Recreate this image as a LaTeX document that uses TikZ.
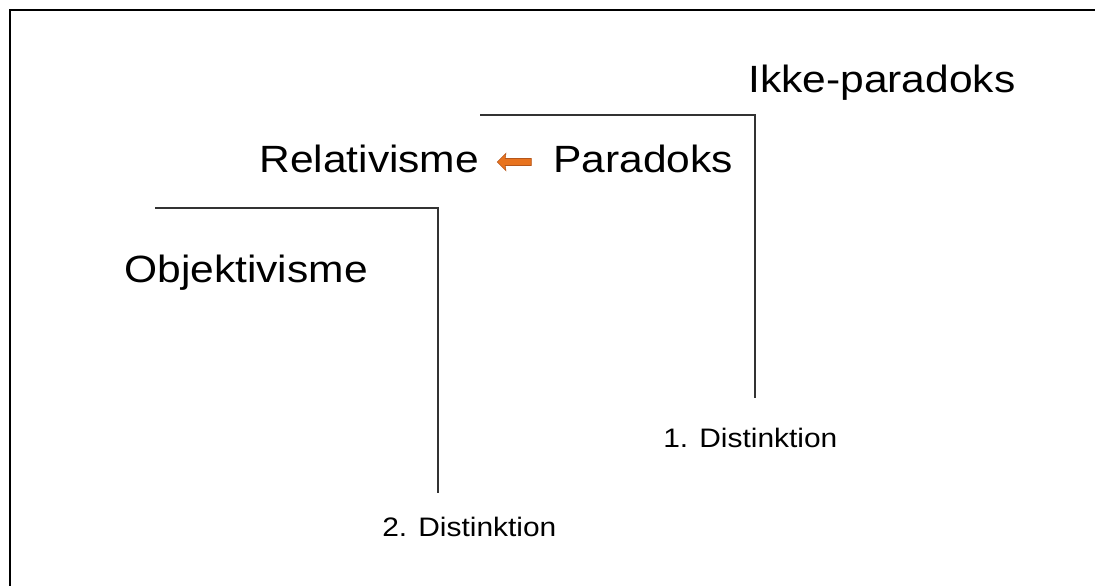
\documentclass[tikz,border=0pt]{standalone}
\usepackage{fontspec}
\setmainfont{Liberation Sans}
\usepackage{xcolor}
\usetikzlibrary{shapes.arrows}

\definecolor{arrowfill}{HTML}{E8731E}
\definecolor{arrowedge}{HTML}{B5561A}

\tikzset{
    big/.style={anchor=base west, inner sep=0pt, xscale=1.12, transform shape, font=\fontsize{27}{30}\selectfont},
    small/.style={anchor=base west, inner sep=0pt, xscale=1.12, transform shape, font=\fontsize{19}{22}\selectfont},
    stepline/.style={line width=1pt, draw=black!80}
}

\begin{document}
\begin{tikzpicture}[x=0.025cm, y=-0.025cm]
    \useasboundingbox (0,0) rectangle (1095,586);

    % Frame (top and left edges)
    \draw[line width=1.5pt] (1095,10) -- (10,10) -- (10,586);

    % Labels
    \node[big] (ikke) at (748,92) {Ikke-paradoks};
    \node[big] (rel) at (259,172) {Relativisme};
    \node[big] (para) at (553,172) {Paradoks};
    \node[big] (obj) at (124,282) {Objektivisme};
    \node[small] (dist1) at (663,447) {1. Distinktion};
    \node[small] (dist2) at (382,536) {2. Distinktion};

    % Arrow
    \node[single arrow, shape border rotate=180, fill=arrowfill, draw=arrowedge, line width=0.4pt,
          minimum height=0.85cm, inner ysep=0.08cm, inner xsep=0pt, text height=0pt, text depth=0pt, text width=0pt,
          single arrow head extend=0.13cm, single arrow head indent=0.02cm] (arr) at (516,162) {};

    % Upper step
    \coordinate (u1) at (480,115);
    \coordinate (u2) at (755,115);
    \coordinate (u3) at (755,398);
    \draw[stepline] (u1) -- (u2) -- (u3);

    % Lower step
    \coordinate (l1) at (155,208);
    \coordinate (l2) at (438,208);
    \coordinate (l3) at (438,493);
    \draw[stepline] (l1) -- (l2) -- (l3);
\end{tikzpicture}
\end{document}
